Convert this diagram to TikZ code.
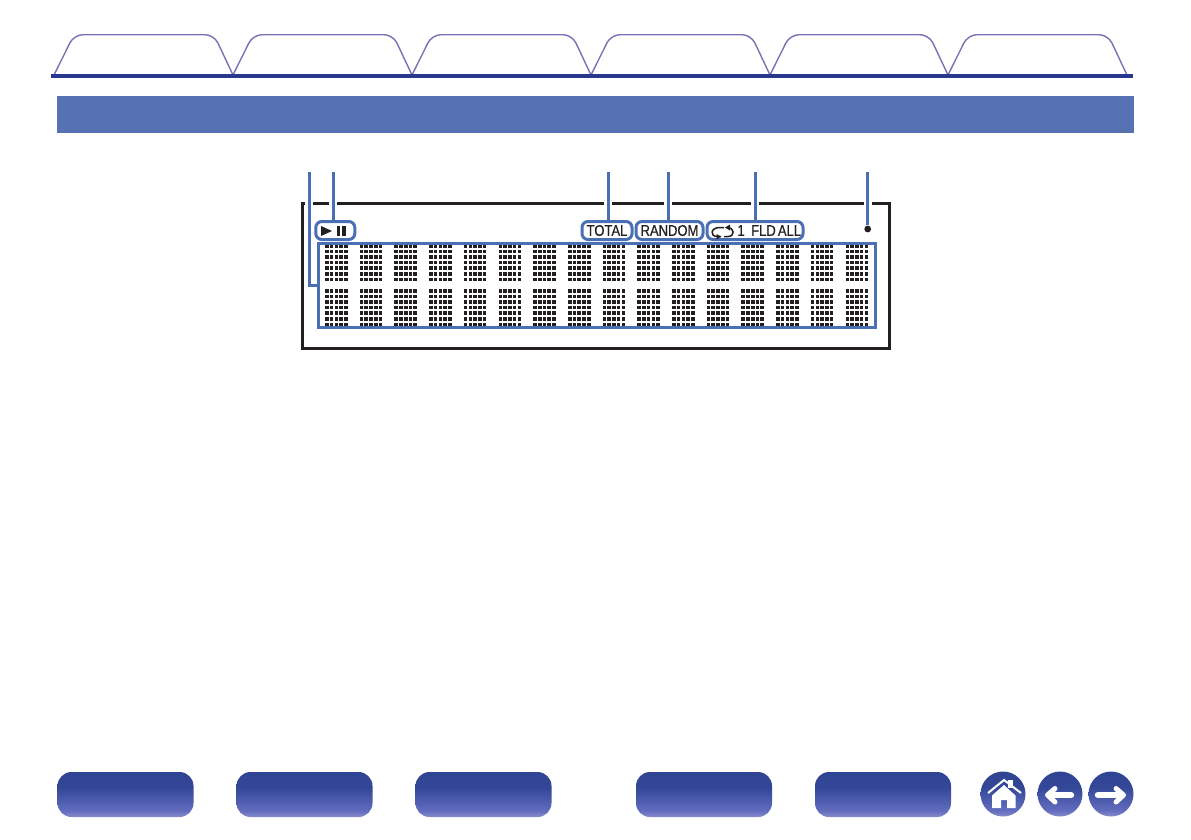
\documentclass[tikz,border=0pt]{standalone}
\usepackage{fontspec}
\usetikzlibrary{fadings}
\setmainfont{Liberation Sans}
\newfontfamily\lcdfont[FakeStretch=0.84,FakeBold=0.5]{Liberation Sans}
\definecolor{tabline}{HTML}{7A70B5}
\definecolor{tabbar}{HTML}{27398C}
\definecolor{headblue}{HTML}{5672B3}
\definecolor{markblue}{HTML}{4A6FB5}
\definecolor{inkblack}{HTML}{231F20}
\pgfdeclareverticalshading{navshade}{100bp}{
  color(0bp)=(white!70!tabline);
  color(12bp)=(white!60!tabline);
  color(32bp)=(tabbar!80!blue!70!white);
  color(58bp)=(tabbar!75!headblue);
  color(85bp)=(tabbar!85!headblue);
  color(100bp)=(tabbar!85!headblue)}
\pgfdeclarehorizontalshading{leftedgeshade}{100bp}{
  color(0bp)=(pgftransparent!0);
  color(12bp)=(pgftransparent!100);
  color(100bp)=(pgftransparent!100)}
\pgfdeclarehorizontalshading{rightedgeshade}{100bp}{
  color(0bp)=(pgftransparent!100);
  color(88bp)=(pgftransparent!100);
  color(100bp)=(pgftransparent!0)}
\pgfdeclarefading{leftedge}{\pgfuseshading{leftedgeshade}}
\pgfdeclarefading{rightedge}{\pgfuseshading{rightedgeshade}}
\tikzset{
  navbutton/.style={rounded corners=14pt,minimum width=136pt,minimum height=45pt,inner sep=0pt,shading=navshade},
  navround/.style={circle,minimum size=45pt,inner sep=0pt,shading=navshade},
  markbox/.style={draw=markblue,line width=3pt,rounded corners=6pt,minimum height=18pt,inner sep=0pt,fill=white,font=\lcdfont\fontsize{15.5}{15.5}\selectfont,text=inkblack},
  lcdlabel/.style={font=\lcdfont\fontsize{15.5}{15.5}\selectfont,text=inkblack,inner sep=0pt},
  leader/.style={draw=markblue,line width=3pt,preaction={draw=white,line width=8pt}},
}
\begin{document}
\begin{tikzpicture}[x=1pt,y=-1pt]
\useasboundingbox (0,0) rectangle (1191,839);
% tabs along the top
\foreach \a/\b in {54/233,233/412,412/591,591/770,770/948,948/1127} {
  \draw[tabline,line width=1.4pt,rounded corners=9pt] (\a,75) -- ({\a+20},34.7) -- ({\b-19},34.7) -- (\b,75);
}
\draw[tabbar,line width=4pt] (51,75.5) -- (1133,75.5);
\fill[headblue] (57,96) rectangle (1134,133);
% display frame
\node[draw=inkblack,line width=3pt,minimum width=587pt,minimum height=145pt,inner sep=0pt] (frame) at (596,275.5) {};
% dot matrix
\foreach \c in {0,...,15} {
  \foreach \i in {0,...,4} {
    \foreach \j in {0,...,6} {
      \fill[inkblack] ({325+34.7*\c+4.75*\i},{244.2+5.55*\j}) rectangle +(3.6,3.6);
      \fill[inkblack] ({325+34.7*\c+4.75*\i},{289.2+5.55*\j}) rectangle +(3.6,3.6);
    }
  }
}
\node[draw=markblue,line width=3pt,minimum width=557pt,minimum height=84pt,inner sep=0pt] (matrix) at (596.5,285) {};
% free ends of the leaders
\coordinate (top1) at (309,172);
\coordinate (top2) at (333,172);
\coordinate (top3) at (608,172);
\coordinate (top4) at (668,172);
\coordinate (top5) at (755,172);
\coordinate (top6) at (867.7,172);
% indicators
\node[circle,fill=inkblack,minimum size=6.8pt,inner sep=0pt] (dot) at (867.7,229) {};
\draw[leader] (top1) |- (matrix.west);
\draw[leader] (top2) -- (333,221);
\draw[leader] (top3) -- (608,221);
\draw[leader] (top4) -- (668,221);
\draw[leader] (top5) -- (755,221);
\draw[leader] (top6) -- (dot);
\node[markbox,minimum width=39pt] (play) at (335.3,230.5) {};
\node[markbox,minimum width=50pt] (total) at (607,230.5) {TOTAL};
\node[markbox,minimum width=67pt] (random) at (669.5,230.5) {RANDOM};
\node[markbox,minimum width=96pt] (repeat) at (755,230.5) {};
\fill[inkblack] (321,226) -- (332,231) -- (321,236) -- cycle;
\fill[inkblack] (336.7,226) rectangle (340,236);
\fill[inkblack] (342,226) rectangle (345.5,236);
% repeat symbol
\draw[inkblack,line width=1.5pt] (724,227.5) -- (720,227.5) .. controls (710,227.5) and (710,236.5) .. (717,236.5) -- (721,236.5);
\fill[inkblack] (716.5,234) -- (721,236.5) -- (716.5,239.5) -- cycle;
\draw[inkblack,line width=1.5pt] (727,227.5) .. controls (735,227.5) and (735,236.5) .. (728,236.5) -- (724,236.5);
\fill[inkblack] (730,224.5) -- (725,227.5) -- (730,230.5) -- cycle;
\node[lcdlabel] (one) at (741,230.5) {1};
\node[lcdlabel] (fld) at (763.5,230.5) {FLD};
\node[lcdlabel] (all) at (789.5,230.5) {ALL};
% bottom buttons
\foreach \n/\x in {btn1/125.5,btn2/304.5,btn3/483.5,btn4/704,btn5/883} {
  \node[navbutton] (\n) at (\x,794.5) {};
  \fill[tabbar!70!black,rounded corners=14pt,path fading=leftedge,fit fading=true] (\n.south west) rectangle (\n.north east);
  \fill[white!35!tabline,rounded corners=14pt,path fading=rightedge,fit fading=true] (\n.south west) rectangle (\n.north east);
}
\node[navround] (home) at (1003,794) {};
\node[navround] (back) at (1060,794) {};
\node[navround] (next) at (1111,794) {};
% home icon
\fill[white] (1008,780) rectangle (1012.5,788);
\fill[white] (992,795.5) -- (1004,785) -- (1015.5,795.5) -- (1015.5,808) -- (1007,808) -- (1007,800) -- (1001,800) -- (1001,808) -- (992,808) -- cycle;
\draw[white,line width=2pt] (988,793) -- (1004,780) -- (1021,793);
% arrows
\draw[white,line width=6.5pt,line cap=round] (1071,795) -- (1051,795);
\draw[white,line width=5pt,line cap=round,line join=round] (1055,788.5) -- (1047.5,795) -- (1055,802);
\draw[white,line width=6.5pt,line cap=round] (1098,795) -- (1120,795);
\draw[white,line width=5pt,line cap=round,line join=round] (1116,788.5) -- (1123.5,795) -- (1116,802);
\end{tikzpicture}
\end{document}
